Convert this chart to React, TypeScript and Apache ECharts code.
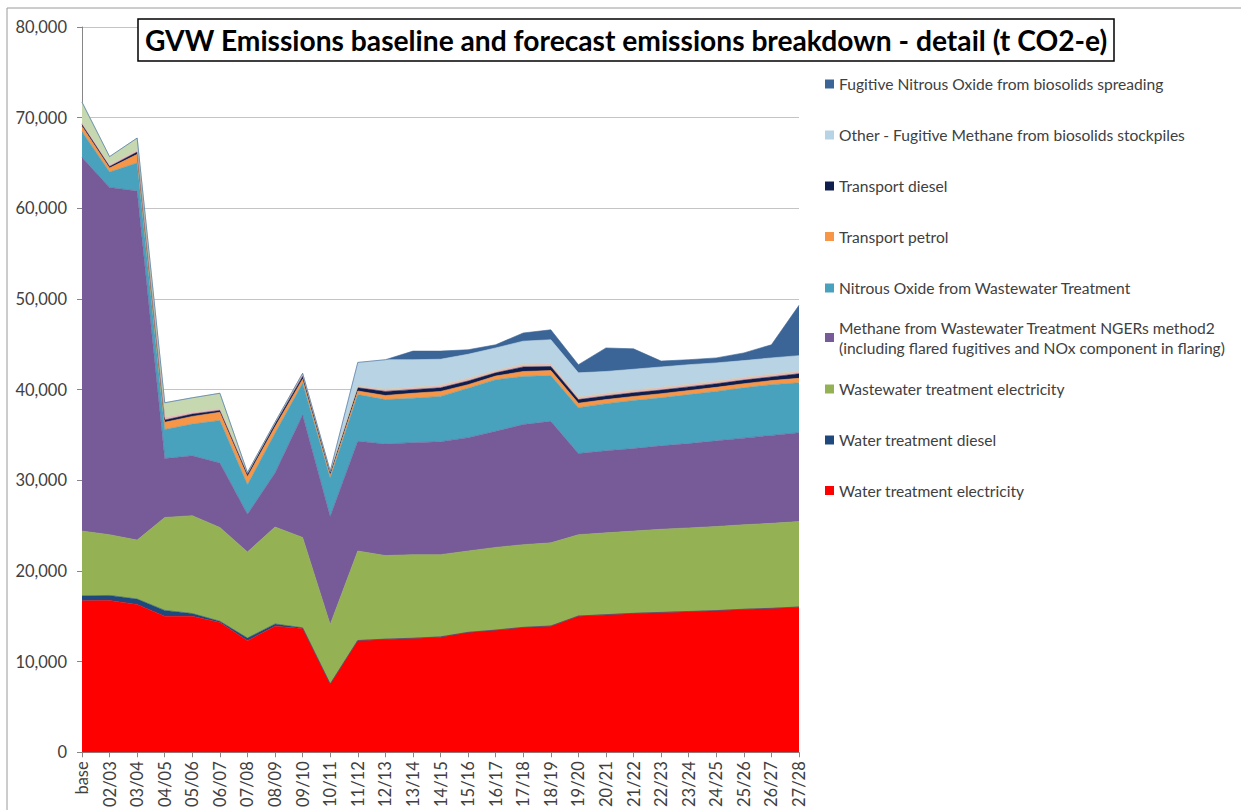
import React, { useEffect, useRef } from "react";
import * as echarts from "echarts";

const categories = ["base", "02/03", "03/04", "04/05", "05/06", "06/07", "07/08", "08/09", "09/10", "10/11", "11/12", "12/13", "13/14", "14/15", "15/16", "16/17", "17/18", "18/19", "19/20", "20/21", "21/22", "22/23", "23/24", "24/25", "25/26", "26/27", "27/28"];

const waterElec = [16700, 16750, 16300, 15000, 15000, 14300, 12300, 13900, 13650, 7500, 12300, 12450, 12550, 12700, 13200, 13450, 13750, 13900, 15000, 15150, 15300, 15400, 15500, 15600, 15750, 15850, 16000];
const waterDiesel = [550, 550, 600, 650, 300, 150, 300, 250, 80, 30, 30, 30, 30, 30, 30, 30, 30, 30, 30, 30, 30, 30, 30, 30, 30, 30, 30];
const wwElec = [7150, 6700, 6500, 10250, 10800, 10350, 9500, 10700, 9970, 6570, 9870, 9220, 9220, 9070, 8970, 9120, 9120, 9170, 8970, 9020, 9070, 9170, 9220, 9270, 9320, 9370, 9420];
const methane = [41200, 38300, 38500, 6500, 6600, 7100, 4150, 5950, 13500, 11900, 12100, 12300, 12350, 12450, 12500, 12800, 13250, 13400, 8950, 9050, 9100, 9200, 9300, 9450, 9550, 9700, 9800];
const nitrousWw = [2850, 1700, 3100, 3200, 3500, 4700, 3250, 4400, 3500, 4250, 5150, 4900, 4900, 5000, 5450, 5700, 5300, 5050, 5050, 5200, 5300, 5300, 5400, 5450, 5550, 5600, 5500];
const transportPetrol = [600, 450, 950, 800, 850, 900, 900, 700, 450, 300, 400, 450, 550, 550, 400, 400, 550, 550, 500, 450, 450, 450, 450, 450, 450, 450, 500];
const transportDiesel = [200, 150, 250, 250, 250, 200, 250, 300, 300, 300, 350, 450, 400, 400, 400, 350, 500, 450, 400, 400, 400, 400, 400, 400, 400, 400, 500];
const minorPink = [150, 200, 200, 300, 200, 200, 200, 200, 350, 150, 200, 250, 250, 300, 300, 250, 300, 300, 300, 300, 300, 300, 300, 300, 300, 300, 300];
const minorPaleGreen = [2300, 900, 1350, 1600, 1600, 1700, 0, 0, 0, 0, 0, 0, 0, 0, 0, 0, 0, 0, 0, 0, 0, 0, 0, 0, 0, 0, 0];
const stockpiles = [0, 0, 0, 0, 0, 0, 0, 0, 0, 0, 2600, 3250, 3050, 2850, 2650, 2500, 2550, 2650, 2650, 2400, 2300, 2250, 2150, 2000, 1850, 1800, 1700];
const spreading = [0, 0, 0, 0, 0, 0, 0, 0, 0, 0, 0, 0, 950, 900, 500, 350, 900, 1100, 900, 2600, 2250, 650, 550, 550, 850, 1450, 5550];

const TITLE = "GVW Emissions baseline and forecast emissions breakdown - detail (t CO2-e)";

const N_SPREAD = "Fugitive Nitrous Oxide from biosolids spreading";
const N_STOCK = "Other - Fugitive Methane from biosolids stockpiles";
const N_TDIESEL = "Transport diesel";
const N_TPETROL = "Transport petrol";
const N_N2O = "Nitrous Oxide from Wastewater Treatment";
const N_METHANE = "Methane from Wastewater Treatment NGERs method2";
const N_WWELEC = "Wastewater treatment electricity";
const N_WDIESEL = "Water treatment diesel";
const N_WELEC = "Water treatment electricity";

const legendOrder = [N_SPREAD, N_STOCK, N_TDIESEL, N_TPETROL, N_N2O, N_METHANE, N_WWELEC, N_WDIESEL, N_WELEC];
const legendY = [84, 135, 186, 236.5, 288, 337.5, 389, 440, 490.5];

const FONT = "Lato, 'Open Sans', sans-serif";

export default function App() {
  const ref = useRef<HTMLDivElement>(null);
  useEffect(() => {
    document.body.style.margin = "0";
    const chart = echarts.init(ref.current!, null, { renderer: "svg" });
    const mk = (name: string, data: number[], color: string) => ({
      name,
      type: "line",
      stack: "total",
      data,
      symbol: "none",
      smooth: false,
      lineStyle: { width: 0.6, color },
      itemStyle: { color },
      areaStyle: { color, opacity: 1 },
      emphasis: { disabled: true },
    });
    const series = [
      mk(N_WELEC, waterElec, "#ff0000"),
      mk(N_WDIESEL, waterDiesel, "#1f497d"),
      mk(N_WWELEC, wwElec, "#94b254"),
      mk(N_METHANE, methane, "#765b98"),
      mk(N_N2O, nitrousWw, "#48a2bd"),
      mk(N_TPETROL, transportPetrol, "#f79646"),
      mk(N_TDIESEL, transportDiesel, "#101e4e"),
      mk("Other minor (pink)", minorPink, "#e6b9b8"),
      mk("Other minor (pale green)", minorPaleGreen, "#c6d8b0"),
      mk(N_STOCK, stockpiles, "#b7d3e4"),
      mk(N_SPREAD, spreading, "#3c6597"),
    ];
    const legendColors: Record<string, string> = {
      [N_SPREAD]: "#3c6597",
      [N_STOCK]: "#b7d3e4",
      [N_TDIESEL]: "#101e4e",
      [N_TPETROL]: "#f79646",
      [N_N2O]: "#48a2bd",
      [N_METHANE]: "#765b98",
      [N_WWELEC]: "#94b254",
      [N_WDIESEL]: "#1f497d",
      [N_WELEC]: "#ff0000",
    };
    const legends = legendOrder.map((name, i) => {
      const isMeth = name === N_METHANE;
      return {
        data: [{ name, icon: "rect", itemStyle: { color: legendColors[name] } }],
        left: 825,
        top: isMeth ? legendY[i] - 30 : legendY[i] - 9,
        padding: 0,
        itemWidth: 9,
        itemHeight: 9,
        itemGap: 0,
        selectedMode: false,
        formatter: isMeth ? () => N_METHANE + "\n(including flared fugitives and NOx component in flaring)" : undefined,
        textStyle: isMeth
          ? { fontFamily: FONT, fontSize: 15.6, color: "#404040", lineHeight: 20, padding: [20, 0, 0, 0] }
          : { fontFamily: FONT, fontSize: 15.6, color: "#404040", lineHeight: 18 },
      };
    });
    chart.setOption({
      animation: false,
      backgroundColor: "#ffffff",
      title: {
        text: TITLE,
        left: 138,
        top: 19,
        padding: [5, 7, 5, 7],
        borderColor: "#000000",
        borderWidth: 1.5,
        backgroundColor: "#ffffff",
        textStyle: { fontFamily: FONT, fontSize: 28.2, fontWeight: "bold", color: "#000000", lineHeight: 32 },
      },
      legend: legends,
      graphic: [
        {
          type: "rect",
          shape: { x: 7, y: 8, width: 1260, height: 830 },
          style: { fill: "none", stroke: "#9a9a9a", lineWidth: 1 },
          silent: true,
          z: -10,
        },
      ],
      grid: { left: 82, right: 442, top: 27, bottom: 57, containLabel: false },
      xAxis: {
        type: "category",
        data: categories,
        boundaryGap: false,
        axisLine: { lineStyle: { color: "#868686", width: 1 } },
        axisTick: { show: true, length: 5, alignWithLabel: true, lineStyle: { color: "#868686" } },
        axisLabel: { rotate: 90, interval: 0, margin: 9, fontFamily: FONT, fontSize: 16.5, color: "#404040" },
        splitLine: { show: false },
      },
      yAxis: {
        type: "value",
        min: 0,
        max: 80000,
        interval: 10000,
        axisLine: { show: true, lineStyle: { color: "#868686", width: 1 } },
        axisTick: { show: true, length: 5, lineStyle: { color: "#868686" } },
        axisLabel: {
          margin: 15,
          fontFamily: FONT,
          fontSize: 16.5,
          color: "#404040",
          formatter: (v: number) => v.toLocaleString("en-US"),
        },
        splitLine: { show: true, lineStyle: { color: "#c4c4c4", width: 1 } },
      },
      series,
    });
    return () => chart.dispose();
  }, []);
  return <div ref={ref} style={{ width: 1241, height: 810 }} />;
}
